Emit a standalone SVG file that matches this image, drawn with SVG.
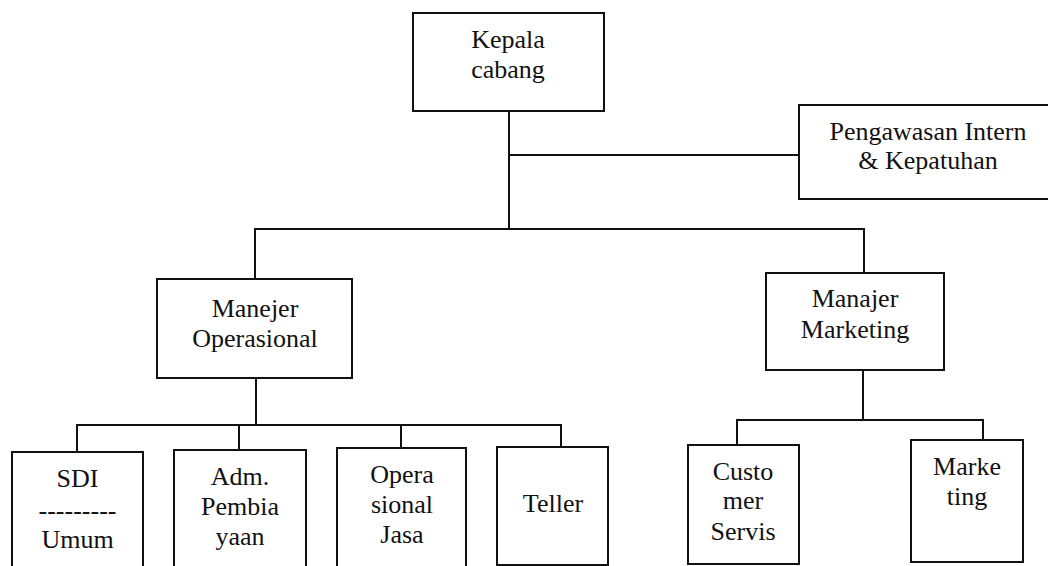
<svg xmlns="http://www.w3.org/2000/svg" width="1048" height="566" viewBox="0 0 1048 566">
<style>
.box{fill:#fff;stroke:#111;stroke-width:2}
.ln{fill:none;stroke:#111;stroke-width:2}
text{font-family:"Liberation Serif","Times New Roman",serif;font-size:26px;fill:#111;text-anchor:middle}
</style>
<rect width="1048" height="566" fill="#fff"/>
<g id="connectors">
<path class="ln" d="M509 111 V229"/>
<path class="ln" d="M509 155 H799"/>
<path class="ln" d="M255 279 V229 H864 V273"/>
<path class="ln" d="M256 378 V425"/>
<path class="ln" d="M77 452 V425 H561 V447"/>
<path class="ln" d="M239 425 V450"/>
<path class="ln" d="M401 425 V448"/>
<path class="ln" d="M863 370 V420"/>
<path class="ln" d="M737 445 V420 H983 V440"/>
</g>
<g id="kepala">
<rect class="box" x="413" y="13" width="191" height="98"/>
<text x="508" y="48">Kepala</text>
<text x="508" y="78">cabang</text>
</g>
<g id="pengawasan">
<rect class="box" x="799" y="105" width="260" height="94"/>
<text x="928" y="140">Pengawasan Intern</text>
<text x="928" y="169">&amp; Kepatuhan</text>
</g>
<g id="manejer-operasional">
<rect class="box" x="157" y="279" width="195" height="99"/>
<text x="255" y="317">Manejer</text>
<text x="255" y="347">Operasional</text>
</g>
<g id="manajer-marketing">
<rect class="box" x="766" y="273" width="178" height="97"/>
<text x="855" y="307">Manajer</text>
<text x="855" y="338">Marketing</text>
</g>
<g id="sdi">
<rect class="box" x="12" y="452" width="131" height="130"/>
<text x="77.5" y="487">SDI</text>
<text x="77.5" y="519">---------</text>
<text x="77.5" y="548">Umum</text>
</g>
<g id="adm">
<rect class="box" x="174" y="450" width="132" height="130"/>
<text x="240" y="485">Adm.</text>
<text x="240" y="515">Pembia</text>
<text x="240" y="545">yaan</text>
</g>
<g id="operasional-jasa">
<rect class="box" x="337" y="448" width="129" height="130"/>
<text x="402" y="483">Opera</text>
<text x="402" y="513">sional</text>
<text x="402" y="543">Jasa</text>
</g>
<g id="teller">
<rect class="box" x="497" y="447" width="111" height="118"/>
<text x="553" y="512">Teller</text>
</g>
<g id="customer-servis">
<rect class="box" x="688" y="445" width="111" height="119"/>
<text x="743" y="480">Custo</text>
<text x="743" y="509">mer</text>
<text x="743" y="540">Servis</text>
</g>
<g id="marketing">
<rect class="box" x="911" y="440" width="112" height="122"/>
<text x="967" y="475">Marke</text>
<text x="967" y="505">ting</text>
</g>
</svg>
